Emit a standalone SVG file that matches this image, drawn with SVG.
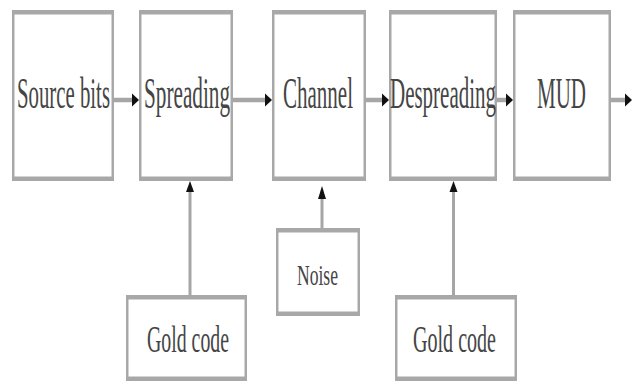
<svg xmlns="http://www.w3.org/2000/svg" width="632" height="381" viewBox="0 0 632 381">
  <style>
    .frame { fill: #a8a8a8; }
    .face { fill: #ffffff; }
    .lbl { font-family: "Liberation Serif", "Times New Roman", serif; fill: #454545; }
    .big { font-size: 44px; }
    .mid { font-size: 38px; }
    .small { font-size: 30px; }
    .wire { stroke: #a6a6a6; fill: none; }
    .h { stroke-width: 4.5; }
    .v { stroke-width: 3; }
    .head { fill: #111111; }
  </style>
  <rect width="632" height="381" fill="#ffffff"/>

  <!-- signal-chain blocks; labels are drawn at half width -->
  <g id="source-bits">
    <rect class="frame" x="12" y="10" width="102" height="171"/>
    <rect class="face" x="14.5" y="14.5" width="97" height="162"/>
    <text class="lbl big" transform="translate(17 108) scale(0.5 1)" textLength="186" lengthAdjust="spacingAndGlyphs">Source bits</text>
  </g>
  <g id="spreading">
    <rect class="frame" x="139" y="10" width="94" height="171"/>
    <rect class="face" x="141.5" y="14.5" width="89" height="162"/>
    <text class="lbl big" transform="translate(144 108) scale(0.5 1)" textLength="172" lengthAdjust="spacingAndGlyphs">Spreading</text>
  </g>
  <g id="channel">
    <rect class="frame" x="272" y="10" width="94" height="171"/>
    <rect class="face" x="274.5" y="14.5" width="89" height="162"/>
    <text class="lbl big" transform="translate(283 108) scale(0.5 1)" textLength="140" lengthAdjust="spacingAndGlyphs">Channel</text>
  </g>
  <g id="despreading">
    <rect class="frame" x="389" y="10" width="108" height="171"/>
    <rect class="face" x="391.5" y="14.5" width="103" height="162"/>
    <text class="lbl big" transform="translate(390 108) scale(0.5 1)" textLength="212" lengthAdjust="spacingAndGlyphs">Despreading</text>
  </g>
  <g id="mud">
    <rect class="frame" x="513" y="10" width="98" height="171"/>
    <rect class="face" x="515.5" y="14.5" width="93" height="162"/>
    <text class="lbl big" transform="translate(537 108) scale(0.5 1)" textLength="98" lengthAdjust="spacingAndGlyphs">MUD</text>
  </g>

  <!-- side inputs -->
  <g id="gold-code-tx">
    <rect class="frame" x="126" y="295" width="121" height="86"/>
    <rect class="face" x="128.5" y="299.5" width="116" height="77"/>
    <text class="lbl mid" transform="translate(147 352) scale(0.5 1)" textLength="164" lengthAdjust="spacingAndGlyphs">Gold code</text>
  </g>
  <g id="noise">
    <rect class="frame" x="276" y="228" width="84" height="88"/>
    <rect class="face" x="278.5" y="232.5" width="79" height="79"/>
    <text class="lbl small" transform="translate(297 285) scale(0.5 1)" textLength="82" lengthAdjust="spacingAndGlyphs">Noise</text>
  </g>
  <g id="gold-code-rx">
    <rect class="frame" x="395" y="295" width="122" height="86"/>
    <rect class="face" x="397.5" y="299.5" width="117" height="77"/>
    <text class="lbl mid" transform="translate(413 352) scale(0.5 1)" textLength="166" lengthAdjust="spacingAndGlyphs">Gold code</text>
  </g>

  <!-- connectors -->
  <g id="connectors">
    <line class="wire h" x1="114" y1="100" x2="133" y2="100"/>
    <polygon class="head" points="139,100 132,93.5 132,106.5"/>
    <line class="wire h" x1="233" y1="100" x2="266" y2="100"/>
    <polygon class="head" points="272,100 265,93.5 265,106.5"/>
    <line class="wire h" x1="366" y1="100" x2="383" y2="100"/>
    <polygon class="head" points="389,100 382,93.5 382,106.5"/>
    <line class="wire h" x1="497" y1="100" x2="507" y2="100"/>
    <polygon class="head" points="513,100 506,93.5 506,106.5"/>
    <line class="wire h" x1="611" y1="100" x2="626" y2="100"/>
    <polygon class="head" points="632,100 625,93.5 625,106.5"/>

    <line class="wire v" x1="190" y1="295" x2="190" y2="190"/>
    <polygon class="head" points="190,181 186,192 194,192"/>
    <line class="wire v" x1="322" y1="228" x2="322" y2="198"/>
    <polygon class="head" points="322,186 318,199 326,199"/>
    <line class="wire v" x1="453.5" y1="295" x2="453.5" y2="190"/>
    <polygon class="head" points="453.5,181 449.5,192 457.5,192"/>
  </g>
</svg>
